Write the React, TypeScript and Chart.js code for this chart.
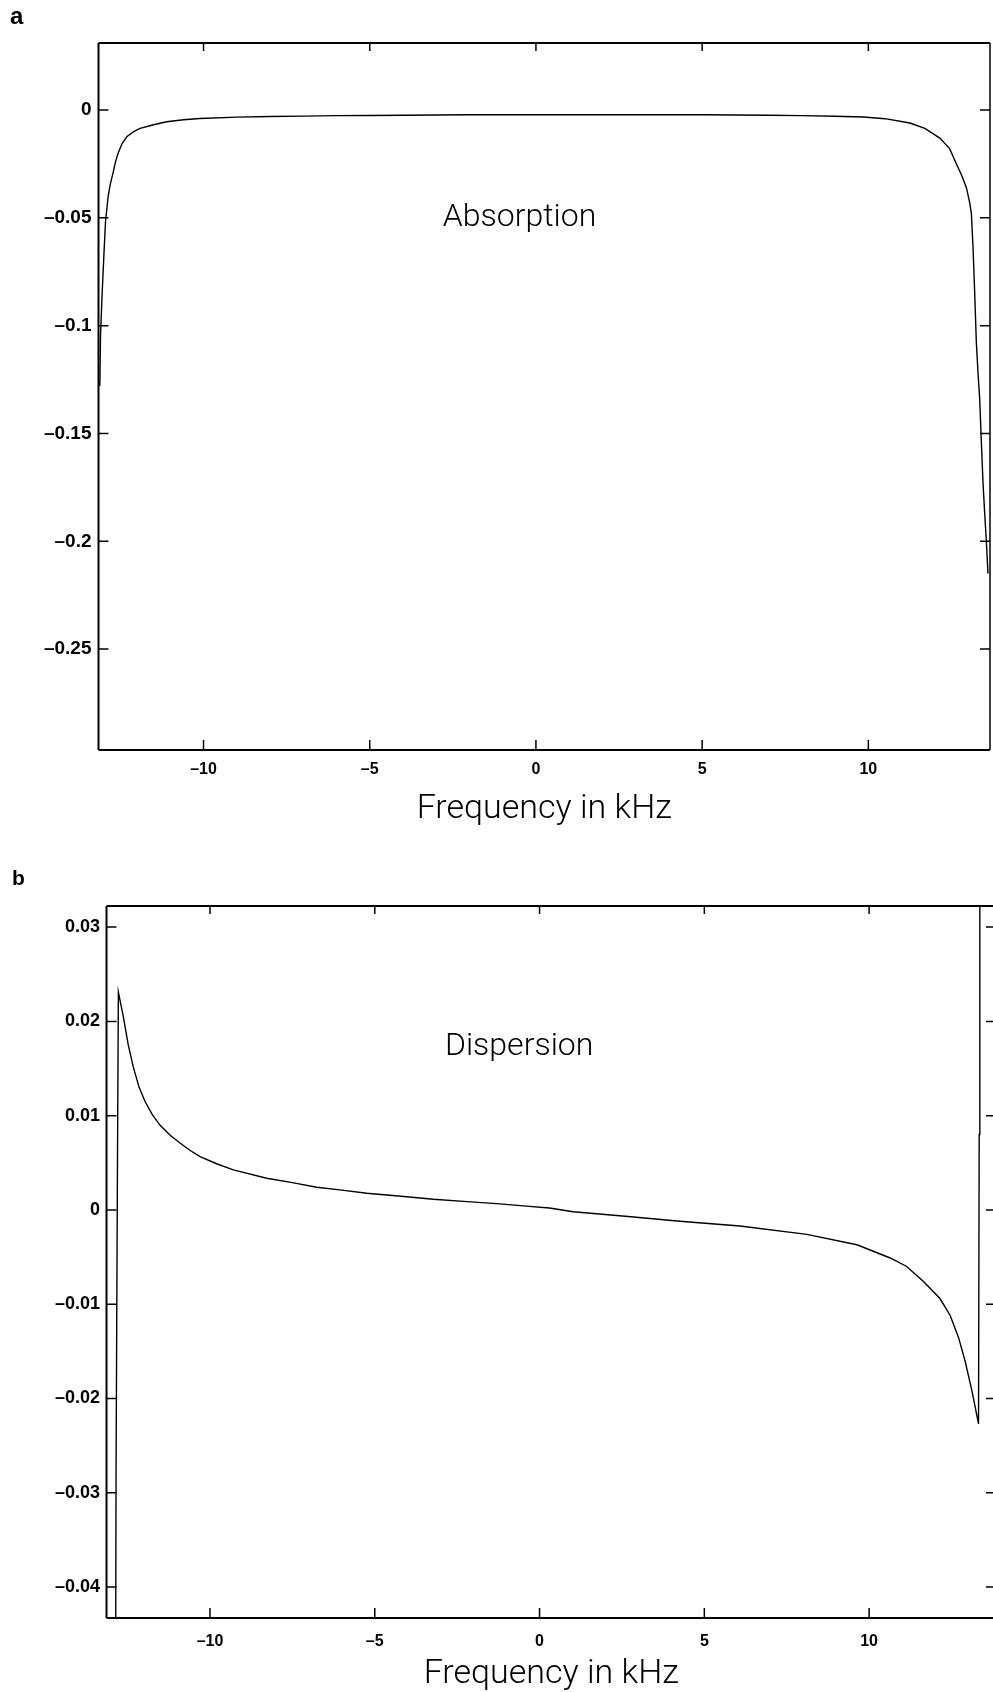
import React, { useEffect, useRef } from "react";
import { Chart, registerables } from "chart.js";

Chart.register(...registerables);

// ---------- data ----------
const ABS_FREQ = [
  -13.12, -13.1, -13.05, -13.0, -12.95, -12.87, -12.8, -12.72, -12.65, -12.57,
  -12.45, -12.31, -12.1, -11.91, -11.5, -11.11, -10.6, -10.11, -9, -8, -7, -6,
  -5, -4, -3, -2, -1, 0, 1, 2, 3, 4, 5, 6, 7, 8, 9, 9.85, 10.5, 11.25, 11.7,
  12.15, 12.45, 12.65, 12.8, 12.95, 13.05, 13.1, 13.15, 13.2, 13.25, 13.3,
  13.35, 13.4, 13.45, 13.5, 13.55, 13.6,
];
const ABS_VALUE = [
  -0.128, -0.105, -0.085, -0.068, -0.052, -0.04, -0.034, -0.029, -0.024, -0.02,
  -0.0155, -0.0124, -0.01, -0.0085, -0.0068, -0.0054, -0.0045, -0.0039, -0.0033,
  -0.003, -0.0028, -0.0026, -0.0025, -0.0024, -0.0023, -0.0022, -0.0022, -0.0022,
  -0.0022, -0.0022, -0.0022, -0.0022, -0.0022, -0.0023, -0.0024, -0.0026, -0.0029,
  -0.0032, -0.004, -0.006, -0.0085, -0.013, -0.018, -0.025, -0.03, -0.036, -0.043,
  -0.048, -0.064, -0.085, -0.108, -0.122, -0.134, -0.154, -0.173, -0.187, -0.2,
  -0.215,
];

const DISP_FREQ = [
  -12.87, -12.85, -12.81, -12.78, -12.63, -12.48, -12.33, -12.15, -11.97, -11.75,
  -11.52, -11.2, -10.91, -10.6, -10.3, -9.8, -9.29, -8.28, -7.5, -6.76, -6.0,
  -5.24, -4.2, -3.22, -2.2, -1.2, -0.4, 0.3, 1.02, 2.69, 4.26, 6.08, 8.11, 9.63,
  10.64, 11.14, 11.65, 12.15, 12.46, 12.71, 12.91, 13.12, 13.32, 13.34, 13.36,
];
const DISP_VALUE = [
  -0.06, -0.028, 0.003, 0.0231, 0.0205, 0.0175, 0.0152, 0.013, 0.0115, 0.0101,
  0.009, 0.0079, 0.0071, 0.0063, 0.00565, 0.0049, 0.00424, 0.00336, 0.0029,
  0.0024, 0.0021, 0.00177, 0.00145, 0.00113, 0.00088, 0.00064, 0.0004, 0.0002,
  -0.0002, -0.0007, -0.0012, -0.0017, -0.0026, -0.0037, -0.0051, -0.006, -0.0076,
  -0.0094, -0.0112, -0.0135, -0.016, -0.0192, -0.0227, 0.008, 0.045,
];

const X_TICKS = [-10, -5, 0, 5, 10];
const X_TICK_LABELS = ["–10", "–5", "0", "5", "10"];
const ABS_Y_TICKS = [0, -0.05, -0.1, -0.15, -0.2, -0.25];
const ABS_Y_TICK_LABELS = ["0", "–0.05", "–0.1", "–0.15", "–0.2", "–0.25"];
const DISP_Y_TICKS = [0.03, 0.02, 0.01, 0, -0.01, -0.02, -0.03, -0.04];
const DISP_Y_TICK_LABELS = ["0.03", "0.02", "0.01", "0", "–0.01", "–0.02", "–0.03", "–0.04"];
const X_TITLE = "Frequency in kHz";
const ABS_LABEL = "Absorption";
const DISP_LABEL = "Dispersion";

// ---------- plugin: box, inward ticks, annotations ----------
const framePlugin = {
  id: "frame",
  afterDatasetsDraw(chart: any, _args: any, opts: any) {
    const { ctx, chartArea } = chart;
    const { left, right, top, bottom } = chartArea;
    const xs = chart.scales.x;
    const ys = chart.scales.y;
    ctx.save();
    ctx.strokeStyle = "#000";
    ctx.lineCap = "butt";
    ctx.lineWidth = 2;
    ctx.beginPath();
    ctx.moveTo(left, top);
    ctx.lineTo(right, top);
    ctx.moveTo(left, top);
    ctx.lineTo(left, bottom);
    ctx.moveTo(left, bottom);
    ctx.lineTo(right, bottom);
    ctx.stroke();
    ctx.lineWidth = 1.5;
    ctx.beginPath();
    ctx.moveTo(right, top);
    ctx.lineTo(right, bottom);
    ctx.stroke();
    const tl = opts.tickLength || 10;
    ctx.lineWidth = 1.5;
    ctx.beginPath();
    xs.ticks.forEach((t: any) => {
      const px = xs.getPixelForValue(t.value);
      ctx.moveTo(px, bottom);
      ctx.lineTo(px, bottom - tl);
      ctx.moveTo(px, top);
      ctx.lineTo(px, top + tl * 0.8);
    });
    ys.ticks.forEach((t: any) => {
      const py = ys.getPixelForValue(t.value);
      ctx.moveTo(left, py);
      ctx.lineTo(left + tl, py);
      ctx.moveTo(right, py);
      ctx.lineTo(right - tl, py);
    });
    ctx.stroke();
    ctx.fillStyle = "#000";
    ctx.textAlign = "left";
    ctx.textBaseline = "alphabetic";
    ctx.font = opts.labelFont;
    ctx.fillText(opts.label, xs.getPixelForValue(opts.labelAt[0]), ys.getPixelForValue(opts.labelAt[1]));
    ctx.font = opts.letterFont;
    ctx.fillText(opts.letter, opts.letterPos[0], opts.letterPos[1]);
    ctx.restore();
  },
};

const TICK_FONT_FAMILY = "'Liberation Sans', Arial, sans-serif";
const TITLE_FONT_FAMILY = "Roboto, 'Liberation Sans', sans-serif";

function makeConfig(p: any) {
  return {
    type: "line",
    data: {
      datasets: [
        {
          data: p.freq.map((f: number, i: number) => ({ x: f, y: p.values[i] })),
          borderColor: "#000",
          borderWidth: 1.4,
          pointRadius: 0,
          tension: 0,
          fill: false,
        },
      ],
    },
    options: {
      animation: false,
      responsive: false,
      devicePixelRatio: 1,
      events: [],
      layout: { padding: { top: p.padTop, right: p.padRight, left: 0, bottom: 0 } },
      plugins: {
        legend: { display: false },
        tooltip: { enabled: false },
        frame: {
          tickLength: 10,
          label: p.label,
          labelAt: p.labelAt,
          labelFont: `300 32px ${TITLE_FONT_FAMILY}`,
          letter: p.letter,
          letterPos: p.letterPos,
          letterFont: `bold ${p.letterSize}px ${TICK_FONT_FAMILY}`,
        },
      },
      scales: {
        x: {
          type: "linear",
          min: p.xMin,
          max: p.xMax,
          afterBuildTicks: (s: any) => {
            s.ticks = X_TICKS.map((v) => ({ value: v }));
          },
          afterFit: (s: any) => {
            s.height = p.xAxisHeight;
          },
          grid: { display: false, drawTicks: false },
          border: { display: false },
          ticks: {
            autoSkip: false,
            maxRotation: 0,
            minRotation: 0,
            padding: p.xTickPad,
            color: "#000",
            font: { family: TICK_FONT_FAMILY, size: 16, weight: "bold" },
            callback: (v: number) => X_TICK_LABELS[X_TICKS.indexOf(v)],
          },
          title: {
            display: true,
            text: X_TITLE,
            color: "#000",
            font: { family: TITLE_FONT_FAMILY, size: 34, weight: 300, lineHeight: 1 },
            padding: { top: 0, bottom: p.titlePad },
          },
        },
        y: {
          type: "linear",
          min: p.yMin,
          max: p.yMax,
          afterBuildTicks: (s: any) => {
            s.ticks = p.yTicks.map((v: number) => ({ value: v }));
          },
          afterFit: (s: any) => {
            s.width = p.yAxisWidth;
          },
          grid: { display: false, drawTicks: false },
          border: { display: false },
          ticks: {
            autoSkip: false,
            padding: p.yTickPad,
            color: "#000",
            font: { family: TICK_FONT_FAMILY, size: p.yTickSize, weight: "bold" },
            callback: (v: number) => p.yTickLabels[p.yTicks.indexOf(v)],
          },
        },
      },
    },
    plugins: [framePlugin],
  };
}

function Panel(props: { cfg: any; top: number; width: number; height: number }) {
  const ref = useRef<HTMLCanvasElement | null>(null);
  useEffect(() => {
    if (!ref.current) return;
    const chart = new Chart(ref.current, makeConfig(props.cfg) as any);
    return () => chart.destroy();
  }, []);
  return (
    <canvas
      ref={ref}
      width={props.width}
      height={props.height}
      style={{
        position: "absolute",
        left: 0,
        top: props.top,
        width: props.width,
        height: props.height,
        display: "block",
      }}
    />
  );
}

const PANEL_A = {
  freq: ABS_FREQ,
  values: ABS_VALUE,
  xMin: -13.16,
  xMax: 13.66,
  yMin: -0.2968,
  yMax: 0.0311,
  yTicks: ABS_Y_TICKS,
  yTickLabels: ABS_Y_TICK_LABELS,
  yTickSize: 19,
  padTop: 43,
  padRight: 3,
  yAxisWidth: 98.5,
  xAxisHeight: 100,
  xTickPad: 10,
  yTickPad: 7,
  titlePad: 24,
  label: ABS_LABEL,
  labelAt: [-2.8, -0.0538],
  letter: "a",
  letterPos: [10, 23.5],
  letterSize: 24,
};

const PANEL_B = {
  freq: DISP_FREQ,
  values: DISP_VALUE,
  xMin: -13.14,
  xMax: 13.85,
  yMin: -0.04329,
  yMax: 0.03224,
  yTicks: DISP_Y_TICKS,
  yTickLabels: DISP_Y_TICK_LABELS,
  yTickSize: 18,
  padTop: 56,
  padRight: 4,
  yAxisWidth: 106.5,
  xAxisHeight: 74,
  xTickPad: 14,
  yTickPad: 6.5,
  titlePad: 1,
  label: DISP_LABEL,
  labelAt: [-2.87, 0.01643],
  letter: "b",
  letterPos: [12, 35],
  letterSize: 21,
};

export default function App() {
  return (
    <div
      style={{
        position: "fixed",
        left: 0,
        top: 0,
        width: 993,
        height: 1692,
        overflow: "hidden",
        background: "#fff",
      }}
    >
      <Panel cfg={PANEL_A} top={0} width={993} height={850} />
      <Panel cfg={PANEL_B} top={850} width={1000} height={842} />
    </div>
  );
}
